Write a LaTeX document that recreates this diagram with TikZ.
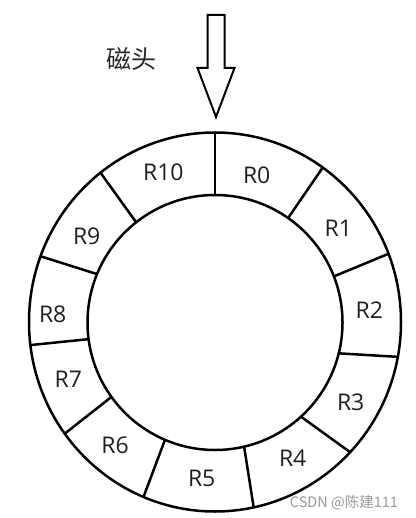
\documentclass[tikz,border=0pt]{standalone}
\usepackage{fontspec}
\setmainfont{Open Sans}
\newfontfamily\cjk{Noto Sans CJK SC}
\begin{document}
\begin{tikzpicture}[x=1pt,y=-1pt,
  ring/.style={line width=2.5pt},
  lbl/.style={font=\fontsize{23}{23}\selectfont, text=black!88, inner sep=0pt},
  headarrow/.style={line width=2pt, line join=miter, fill=white}]
\useasboundingbox (0,0) rectangle (415,518);
\def\cx{215}
\def\cy{322}
% ring
\draw[ring] (\cx,\cy) ellipse [x radius=186, y radius=189.5];
\draw[ring] (\cx,322.5) circle [radius=127.5];
\foreach \ao/\ai in {90/90, 54.6/55, 21.1/21.2, 349.4/346, 316.6/312.4, 282/283.2, 247.4/246.9, 216.1/215.7, 187/187.5, 159.7/157.7, 128/128.2}
  \draw[ring] ({\cx+127.5*cos(\ai)},{322.5-127.5*sin(\ai)}) -- ({\cx+186*cos(\ao)},{\cy-189.5*sin(\ao)});
% labels
\node[lbl] (r0)  at (256.7,175)   {R0};
\node[lbl] (r1)  at (338.3,228.3) {R1};
\node[lbl] (r2)  at (369.3,309.7) {R2};
\node[lbl] (r3)  at (350.7,402)   {R3};
\node[lbl] (r4)  at (292.7,458)   {R4};
\node[lbl] (r5)  at (201.7,478.7) {R5};
\node[lbl] (r6)  at (115,445.3)   {R6};
\node[lbl] (r7)  at (68.3,379.7)  {R7};
\node[lbl] (r8)  at (52.7,314.7)  {R8};
\node[lbl] (r9)  at (86.7,236)    {R9};
\node[lbl] (r10) at (163.3,172.7) {R10};
% head arrow
\draw[headarrow] (207.5,15) -- (224.5,15) -- (224.5,68) -- (234.5,68) -- (216,117) -- (197.5,68) -- (207.5,68) -- cycle;
\node[font=\cjk\fontsize{25}{25}\selectfont, text=black!85, inner sep=0pt] (head) at (131.5,59) {磁头};
% watermark
\node[font=\cjk\fontsize{14.5}{14.5}\selectfont, text=black!40, inner sep=0pt] (wm) at (344,502.5) {CSDN @陈建111};
\end{tikzpicture}
\end{document}
